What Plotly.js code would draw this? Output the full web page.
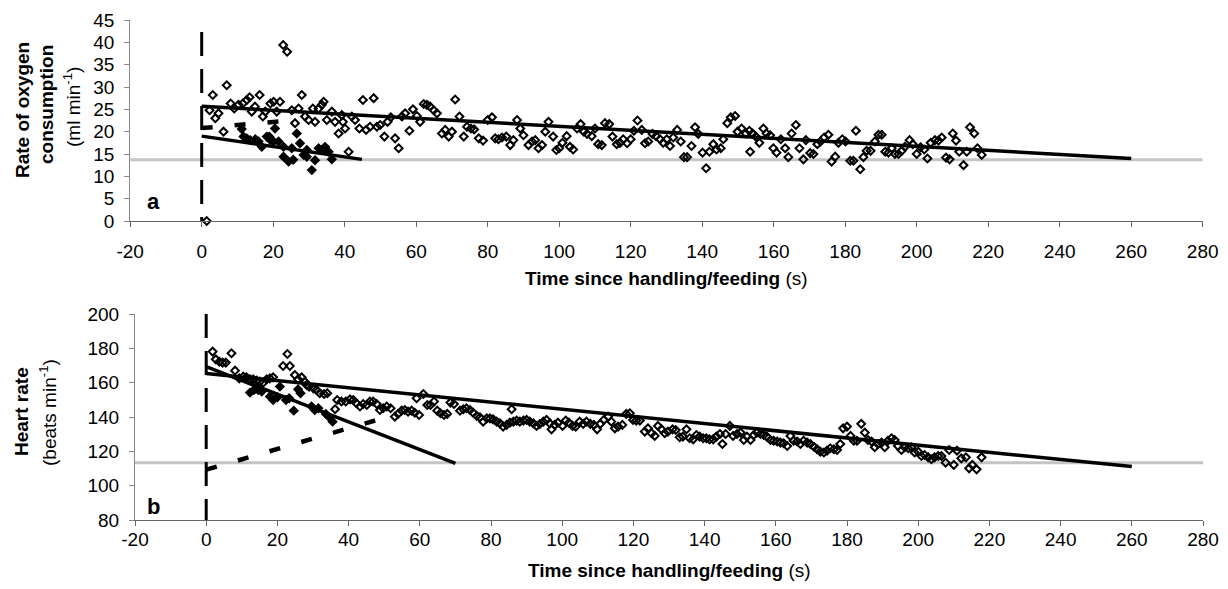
<!DOCTYPE html>
<html>
<head>
<meta charset="utf-8">
<script src="https://cdn.plot.ly/plotly-3.0.1.min.js"></script>
<style>html,body{margin:0;padding:0;background:#fff;}#chart{width:1228px;height:589px;}</style>
</head>
<body>
<div id="chart"></div>
<script>
// ---------- Panel a: rate of oxygen consumption ----------
const o2OpenT = [1.4,2.2,3.1,3.8,4.7,6.1,7.0,8.1,9.1,10.3,11.5,12.6,13.4,14.0,14.9,16.2,17.1,17.8,19.2,20.1,21.0,21.9,22.8,23.9,25.2,26.1,27.1,28.0,28.9,29.9,31.1,31.7,32.7,33.6,34.1,35.0,36.4,37.3,38.3,39.2,39.5,40.1,41.1,42.0,42.9,44.1,45.1,46.0,47.1,48.1,49.0,49.9,51.1,52.0,52.9,54.1,55.1,56.0,56.9,58.1,59.1,60.2,61.1,62.1,63.0,63.9,64.9,65.8,67.2,68.1,69.1,70.0,70.9,72.1,73.3,74.2,75.3,76.2,77.5,78.7,80.0,81.2,82.1,83.0,84.0,85.2,86.3,87.2,88.2,89.1,90.0,91.4,92.4,93.3,94.2,95.2,96.1,97.0,98.3,99.2,100.0,100.9,102.1,103.0,103.9,105.0,106.0,106.9,107.8,109.1,110.0,110.9,111.9,112.8,114.0,114.9,116.1,117.0,117.9,119.0,120.0,120.9,121.9,123.1,124.0,124.9,126.1,127.1,128.2,129.1,130.1,131.0,131.9,133.0,134.0,134.9,135.8,137.0,138.0,138.9,140.1,141.1,142.0,143.1,144.0,145.2,145.9,147.0,148.0,149.2,149.9,151.0,152.2,153.2,153.4,154.1,155.0,156.0,157.1,158.0,159.0,159.9,160.8,162.0,163.2,164.1,165.0,166.2,167.2,168.3,169.0,170.2,171.1,172.2,173.1,174.1,175.3,176.2,177.2,178.1,179.2,180.1,181.4,182.3,183.0,184.2,185.1,186.0,187.1,188.3,189.3,190.2,191.2,192.1,193.0,193.9,194.9,195.8,196.7,198.0,198.9,200.0,201.1,202.1,203.0,203.9,205.1,206.1,207.0,208.2,209.2,210.1,211.0,211.9,213.1,214.0,214.9,216.1,217.0,218.2];
const o2OpenV = [0,24.8,28.2,23,24.1,20,30.4,26.3,25.2,26,26.3,27.1,27.7,24.5,25.6,28.2,23.4,24.5,26.3,26.7,24.5,26.7,39.4,37.9,24.8,21.9,25.2,28.2,23.4,22.6,25.2,22.2,25.2,26,26.7,22.6,24.5,22.2,19.6,23.7,22.2,20.7,15.5,23.4,22.6,20.7,27.1,20.4,21.1,27.5,21.1,21.5,18.9,22.2,23.2,18.5,16.3,23.4,24.1,20.2,25,23.5,22.2,26.2,26,25.6,24.8,24.1,19.6,20.4,18.9,20,27.2,23.4,18.9,21.1,20.7,20.5,18.5,18,22.6,23.2,18.5,18.3,18.7,18.9,17,18.1,22.6,20.7,19.2,17,17.8,18.1,16.3,17,20,22.2,18.9,15.9,16.3,17.5,19,16.6,16,20.7,21.7,20,19.5,19,20.7,17.2,17,21.9,21.7,18.9,17.2,17.5,18.3,17.4,18.3,20.2,22.5,20.4,17.4,17.8,19.5,19,18.3,17.5,18.3,16.8,18.7,20.4,17.8,14.3,14.3,16.8,21,19.5,15.3,11.8,15.5,17.2,16,16.3,18.3,21.9,23.2,23.5,20,20.7,19.6,20.2,15.5,19.6,18.9,17.5,20.7,19.6,19.2,16.3,15.3,18.3,16.3,14.3,19.6,21.5,16.3,13.8,18.1,15.2,15,17.2,17.8,18.7,19.3,13.3,14.4,17.5,18.3,17.8,13.5,13.5,20.2,11.6,14.3,15.7,15.7,17.8,19.3,19.3,15.5,15.3,16.3,15,15,15.7,16.6,18.1,17.2,15,16.5,16,14,17.5,18.1,18,18.7,14.2,13.8,19.6,18,15.5,12.5,15.5,21,19.6,16.3,14.8];
const o2FilledT = [11.2,11.7,12.6,13.6,15.0,15.9,16.8,18.2,18.9,19.2,20.1,20.5,21.5,22.9,22.9,24.3,25.2,25.6,26.6,27.5,28.5,29.4,29.4,30.8,31.7,32.7,33.6,34.5,35.5,36.4];
const o2FilledV = [20.6,18.9,18.5,18.1,18.3,17.8,16.6,18.9,18.9,18.1,17.8,20.7,17.8,14.4,16.6,13.3,16.3,13.7,19.6,17.4,14.8,15.9,14.4,11.4,13.6,16.3,15.9,16.6,15.5,13.8];
const o2LongFitT = [0, 260];
const o2LongFitV = [25.7, 14.0];
const o2ShortFitT = [0, 44.8];
const o2ShortFitV = [19.0, 13.8];
const o2RiseT = [0, 22];
const o2RiseV = [20.8, 22.3];
const o2MarkerT = [0, 0];
const o2MarkerV = [42.3, 0];
const o2Baseline = 13.7;

// ---------- Panel b: heart rate ----------
const hrOpenT = [1.8,2.7,3.7,4.6,5.5,7.1,8.1,9.3,10.4,11.3,12.3,13.2,14.2,15.1,16.0,17.0,17.9,18.8,21.6,22.8,23.5,24.9,25.8,26.8,27.7,28.2,28.9,30.1,31.0,31.9,33.1,34.0,36.2,36.8,38.0,39.2,40.4,41.3,42.2,43.2,44.1,45.1,46.0,46.9,47.9,48.8,49.7,50.7,51.8,53.0,53.9,54.9,55.8,56.7,57.7,58.6,59.1,59.8,61.0,62.1,63.0,64.0,64.9,65.8,66.8,67.7,68.6,69.6,71.3,72.2,73.1,74.1,75.0,76.0,76.9,77.8,78.8,79.7,80.6,81.6,82.5,83.4,84.4,85.3,85.8,86.3,87.2,88.1,89.1,90.0,90.9,91.9,92.8,93.7,94.7,95.6,96.5,97.0,97.9,98.8,100.1,101.0,101.9,102.9,103.8,104.9,105.9,106.8,107.9,108.9,109.8,110.7,111.7,112.9,113.8,114.8,115.7,116.9,118.0,119.0,119.9,120.8,121.8,123.2,124.1,125.1,126.0,126.9,127.9,128.8,129.7,131.0,131.9,133.0,133.9,134.9,135.8,136.8,137.7,138.6,139.6,140.5,141.4,142.4,143.3,144.3,145.0,145.9,147.1,148.0,149.1,150.1,151.0,151.9,152.9,153.8,154.7,155.7,156.6,157.5,158.5,159.4,160.4,161.3,162.2,163.2,164.1,165.0,166.0,166.9,167.8,168.8,169.7,170.7,171.6,172.5,173.5,174.4,175.3,176.3,177.2,178.1,178.9,180.0,181.0,181.9,182.8,184.0,185.0,185.9,186.9,187.8,188.7,189.7,190.6,191.5,192.5,193.4,194.3,195.3,196.2,197.2,198.1,199.0,200.0,200.9,201.8,202.8,203.7,204.6,205.6,206.5,207.7,208.7,210.0,210.9,212.1,213.4,214.3,215.2,216.4,217.8];
const hrOpenV = [178.1,173.6,172.2,171.7,171.7,177.1,167,162.5,163.5,163.1,162,162,161.2,160.6,160,162,162.5,163.1,169.7,176.7,169.7,164.5,162,163.1,160.6,158.7,157.7,156.7,155.7,153.8,153.4,153.8,144.5,149.9,149,149,150.3,149.9,148,146.1,147.6,147,149,149,147.6,144.1,145.1,146.1,145.1,140.2,141.8,143.7,144.1,143.1,143.7,142.5,150.9,141.2,153.4,147,147,149,143.7,142.2,141.2,141.8,148.4,147.6,143.7,144.5,145.1,144.1,142.5,140.6,139.8,137.3,139.2,139.2,138.6,137.3,136.3,134.4,135.4,136.7,144.5,137.3,137.9,137.3,137.9,138.3,137.3,136.3,134.8,135.9,137.3,138.3,136.3,132.8,135.4,136.7,134.8,137.9,136.7,134.8,134.4,137.3,136,137.3,136,135.4,132.8,136,138.3,140.2,137.3,133.4,134.4,135.4,141.8,142.2,138.3,137.9,137.9,131.5,133.4,130.5,129,134.8,132.8,130.5,131.5,132.8,132.4,128.2,128.6,132.8,127.6,127,129.5,128.6,127.6,127.6,127,127,128.6,130.1,124.3,130.1,134.8,129,130.1,130.9,126.6,128.6,126.6,129.5,130.9,130.1,129.5,128.6,126.6,126.2,125.7,125.1,124.7,123.1,128.9,126.2,125.7,124.3,126.2,125.1,124.3,122.7,121.2,119.8,119.3,120.4,121.8,121.2,120.8,124.3,133.4,134.4,129,126.2,126.2,136,130.9,126.6,125.7,122.4,124.3,125.1,122.4,126.2,127.6,126.6,123.1,120.8,122.4,121.8,122.4,119.3,119.8,117.3,117.9,116.5,115.4,116.5,117.3,117.3,113.4,120.8,112.1,120.4,115.9,116.5,110.1,112.1,109.5,116.5];
const hrFilledT = [12.3,13.4,14.6,15.6,17.9,18.8,20.0,20.7,22.4,23.3,24.6,25.8,26.5,29.6,30.5,31.5,33.6,34.6,35.5];
const hrFilledV = [154.2,155.7,155.7,154.8,151.9,149.9,151.5,157.7,149.9,150.9,143.7,156.1,153.8,146.1,144.1,145.1,141.8,139.8,137.3];
const hrLongFitT = [0, 260];
const hrLongFitV = [165.4, 111.1];
const hrShortFitT = [0, 70];
const hrShortFitV = [169.3, 113];
const hrRiseT = [0, 50];
const hrRiseV = [109.3, 139.5];
const hrMarkerT = [0, 0];
const hrMarkerV = [200, 80];
const hrBaseline = 113.4;

const xSpan = [-20, 280];
const xTicks = [-20,0,20,40,60,80,100,120,140,160,180,200,220,240,260,280];
const xTickText = ['-20','0','20','40','60','80','100','120','140','160','180','200','220','240','260','280'];

// ---------- traces ----------
const FONT = 'Liberation Sans, Arial, sans-serif';
function line(x, y, xa, ya, opts) {
  return Object.assign({type:'scatter', mode:'lines', x:x, y:y, xaxis:xa, yaxis:ya,
    hoverinfo:'skip', cliponaxis:false}, opts);
}
const grayLine = {color:'#c4c4c4', width:3};
const fitLine = {color:'#000', width:3.5};
const riseLine = {color:'#000', width:4.5, dash:'11px,22px'};
const markLine = {color:'#000', width:3, dash:'24px,13px'};
const openMarker = {symbol:'diamond-open', size:6, color:'#000', line:{width:2, color:'#000'}};
const filledMarker = {symbol:'diamond', size:8, color:'#000'};

const traces = [
  line(xSpan, [o2Baseline, o2Baseline], 'x', 'y', {line:grayLine}),
  line(xSpan, [hrBaseline, hrBaseline], 'x2', 'y2', {line:grayLine}),
  line(o2MarkerT, o2MarkerV, 'x', 'y', {line:markLine}),
  line(hrMarkerT, hrMarkerV, 'x2', 'y2', {line:markLine}),
  line(o2RiseT, o2RiseV, 'x', 'y', {line:riseLine}),
  line(hrRiseT, hrRiseV, 'x2', 'y2', {line:riseLine}),
  {type:'scatter', mode:'markers', x:o2OpenT, y:o2OpenV, xaxis:'x', yaxis:'y', cliponaxis:false, marker:openMarker},
  {type:'scatter', mode:'markers', x:o2FilledT, y:o2FilledV, xaxis:'x', yaxis:'y', marker:filledMarker},
  {type:'scatter', mode:'markers', x:hrOpenT, y:hrOpenV, xaxis:'x2', yaxis:'y2', cliponaxis:false, marker:openMarker},
  {type:'scatter', mode:'markers', x:hrFilledT, y:hrFilledV, xaxis:'x2', yaxis:'y2', marker:filledMarker},
  line(o2LongFitT, o2LongFitV, 'x', 'y', {line:fitLine}),
  line(o2ShortFitT, o2ShortFitV, 'x', 'y', {line:fitLine}),
  line(hrLongFitT, hrLongFitV, 'x2', 'y2', {line:fitLine}),
  line(hrShortFitT, hrShortFitV, 'x2', 'y2', {line:fitLine})
];

const W = 1228, H = 589;
function xaxisDef(x0, x1, anchor, standoff) {
  return {domain:[x0/W, x1/W], anchor:anchor, range:xSpan, tickmode:'array', tickvals:xTicks, ticktext:xTickText,
    showgrid:false, zeroline:false, showline:true, linecolor:'#666', linewidth:1,
    ticks:'outside', ticklen:5, tickcolor:'#666', ticklabelstandoff:standoff,
    tickfont:{family:FONT, size:19, color:'#000'}};
}
function yaxisDef(yTop, yBot, anchor, range, dtick) {
  return {domain:[1 - yBot/H, 1 - yTop/H], anchor:anchor, range:range, dtick:dtick, tick0:range[0],
    showgrid:false, zeroline:false, showline:true, linecolor:'#888', linewidth:1,
    ticks:'outside', ticklen:5, tickcolor:'#888', ticklabelstandoff:6,
    tickfont:{family:FONT, size:19, color:'#000'}};
}
function label(px, py, text, angle, size) {
  return {xref:'paper', yref:'paper', x:px/W, y:1-py/H, xanchor:'center', yanchor:'middle', showarrow:false,
    textangle:angle, text:text, font:{family:FONT, size:size, color:'#000'}};
}

const layout = {
  width:W, height:H, margin:{l:0, r:0, t:0, b:0}, paper_bgcolor:'#fff', plot_bgcolor:'#fff',
  showlegend:false,
  xaxis: xaxisDef(130.2, 1202.7, 'y', 8),
  yaxis: yaxisDef(20, 221, 'x', [0, 45], 5),
  xaxis2: xaxisDef(135, 1203, 'y2', -3),
  yaxis2: yaxisDef(314, 520, 'x2', [80, 200], 20),
  annotations: [
    label(666.5, 278, '<b>Time since handling/feeding</b> (s)', 0, 19),
    label(669, 570, '<b>Time since handling/feeding</b> (s)', 0, 19),
    label(23, 110, '<b>Rate of oxygen</b>', -90, 19),
    label(46, 105, '<b>consumption</b>', -90, 19),
    label(72, 107, '(ml min<sup>-1</sup>)', -90, 19),
    label(21, 412, '<b>Heart rate</b>', -90, 19),
    label(48, 412, '(beats min<sup>-1</sup>)', -90, 19),
    {xref:'x', yref:'y', x:-13.6, y:4.3, xanchor:'center', yanchor:'middle', showarrow:false,
     text:'<b>a</b>', font:{family:FONT, size:22, color:'#000'}},
    {xref:'x2', yref:'y2', x:-14.9, y:87.8, xanchor:'center', yanchor:'middle', showarrow:false,
     text:'<b>b</b>', font:{family:FONT, size:22, color:'#000'}}
  ]
};

Plotly.newPlot('chart', traces, layout, {staticPlot:true, displayModeBar:false});
</script>
</body>
</html>
